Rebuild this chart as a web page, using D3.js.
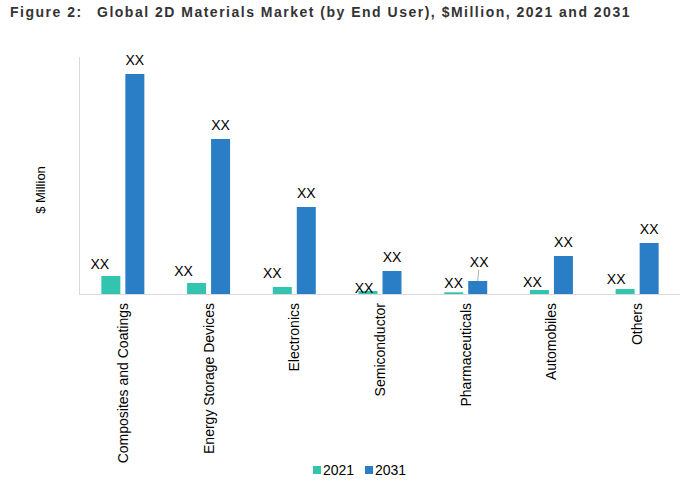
<!DOCTYPE html>
<html><head><meta charset="utf-8">
<script src="https://cdn.jsdelivr.net/npm/d3@7"></script>
<style>body{margin:0;background:#fff;} svg{display:block;font-family:"Liberation Sans",Arial,sans-serif;}</style>
</head><body>
<svg id="c" width="696" height="485"></svg>
<script>
const categories = ["Composites and Coatings","Energy Storage Devices","Electronics","Semiconductor","Pharmaceuticals","Automobiles","Others"];
const series = ["2021","2031"];
const values2021 = [18, 11, 7, 3, 1.7, 4, 5];
const values2031 = [220, 155, 87, 23, 13, 38, 51];
const valueLabels = ["XX","XX","XX","XX","XX","XX","XX"];
const colors = {"2021":"#32C4AE","2031":"#2A7EC6"};
// label placement nudges (layout only)
const label2021Dx = [-11, -13, -10, -4, 0, -7, -9];
const label2021Dy = [-7, -7, -9, 2, -4, -3, -5];
const label2031Dx = [0, 0, 0, 0, 1.5, 0, 0];
const label2031Dy = [-9, -9, -9, -9, -14, -9, -9];

const svg = d3.select("#c");
const x = d3.scaleBand().domain(categories).range([80, 680]).padding(0);
const y = d3.scaleLinear().domain([0, 240]).range([294, 54]);
const barW = 19, gap = 5;

const title = svg.append("text").attr("x", 10).attr("y", 17).attr("font-size", 14).attr("font-weight", "bold")
  .attr("fill", "#333").attr("letter-spacing", 1.5);
title.append("tspan").text("Figure 2:");
title.append("tspan").attr("x", 97).text("Global 2D Materials Market (by End User), $Million, 2021 and 2031");

// axes lines
svg.append("line").attr("x1", 79.5).attr("x2", 79.5).attr("y1", 57).attr("y2", 294).attr("stroke", "#d9d9d9");
const xAxis = svg.append("g").attr("transform", "translate(0,294.5)")
  .call(d3.axisBottom(x).tickSize(0).tickFormat(""));
xAxis.select(".domain").attr("stroke", "#d9d9d9").attr("d", "M79,0H680");

svg.append("text").attr("transform", "translate(45,190) rotate(-90)").attr("text-anchor", "middle")
  .attr("font-size", 13).attr("fill", "#000").text("$ Million");

const data = categories.map((c, i) => ({c, i, v1: values2021[i], v2: values2031[i], lbl: valueLabels[i]}));
const cx = d => x(d.c) + x.bandwidth() / 2;
const c1 = d => cx(d) - gap/2 - barW/2;
const c2 = d => cx(d) + gap/2 + barW/2;

svg.selectAll(".b1").data(data).join("rect")
  .attr("x", d => c1(d) - barW/2).attr("width", barW)
  .attr("y", d => y(d.v1)).attr("height", d => y(0) - y(d.v1)).attr("fill", colors["2021"]);
svg.selectAll(".b2").data(data).join("rect")
  .attr("x", d => c2(d) - barW/2).attr("width", barW)
  .attr("y", d => y(d.v2)).attr("height", d => y(0) - y(d.v2)).attr("fill", colors["2031"]);

// data labels
svg.selectAll(".l1").data(data).join("text")
  .attr("x", d => c1(d) + label2021Dx[d.i]).attr("y", d => y(d.v1) + label2021Dy[d.i])
  .attr("text-anchor", "middle").attr("font-size", 14).attr("fill", "#000").text(d => d.lbl);
svg.selectAll(".l2").data(data).join("text")
  .attr("x", d => c2(d) + label2031Dx[d.i]).attr("y", d => y(d.v2) + label2031Dy[d.i])
  .attr("text-anchor", "middle").attr("font-size", 14).attr("fill", "#000").text(d => d.lbl);
data.forEach(d => {
  if (label2031Dy[d.i] < -10) {
    svg.append("line").attr("x1", c2(d) + 1).attr("y1", y(d.v2) + label2031Dy[d.i] + 3)
      .attr("x2", c2(d)).attr("y2", y(d.v2))
      .attr("stroke", "#999").attr("stroke-width", 0.8);
  }
});

// category labels
svg.selectAll(".cl").data(categories).join("text")
  .attr("transform", c => `translate(${x(c) + x.bandwidth()/2 + 5},303) rotate(-90)`)
  .attr("text-anchor", "end").attr("font-size", 14).attr("fill", "#000").text(c => c);

// legend
const lg = svg.append("g");
const legendItems = [{s:"2021", x:313}, {s:"2031", x:365}];
legendItems.forEach(it => {
  lg.append("rect").attr("x", it.x).attr("y", 466).attr("width", 8).attr("height", 8).attr("fill", colors[it.s]);
  lg.append("text").attr("x", it.x + 10).attr("y", 475).attr("font-size", 14).attr("fill", "#000").text(it.s);
});
</script>
</body></html>
